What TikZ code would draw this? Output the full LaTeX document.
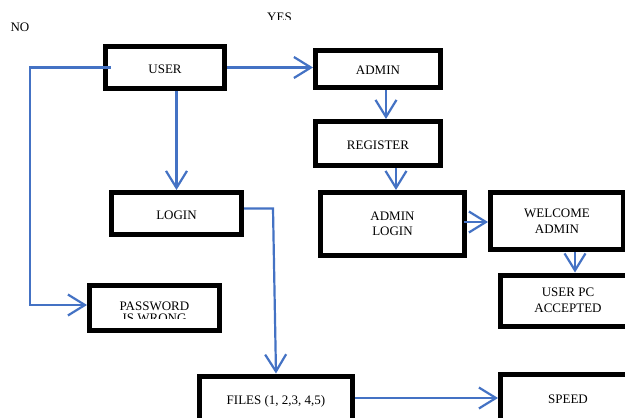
\documentclass[tikz,border=0pt]{standalone}
\usepackage{fontspec}
\setmainfont{Liberation Serif}
\usetikzlibrary{arrows.meta}
\definecolor{arrowblue}{RGB}{68,114,196}
\begin{document}
\begin{tikzpicture}[x=1pt,y=-1pt,
  box/.style={draw=black,line width=5pt,fill=white,inner sep=0pt,align=center,
    font=\fontsize{13}{15.5}\selectfont},
  onebox/.style={box,text height=11.5pt,text depth=0pt},
  conn/.style={draw=arrowblue,line width=2.2pt,
    -{Straight Barb[length=17pt,width=21pt,line width=2.2pt]}},
  lbl/.style={font=\fontsize{13}{15.5}\selectfont,inner sep=0pt}]
\clip (0,0) rectangle (625,418);
\fill[white] (0,0) rectangle (625,418);
% boxes
\node[onebox,minimum width=119,minimum height=42] (user) at (165,67.5) {USER};
\node[onebox,minimum width=125,minimum height=37] (admin) at (378,69) {ADMIN};
\node[onebox,minimum width=125,minimum height=44] (register) at (378,143.5) {REGISTER};
\node[box,minimum width=144,minimum height=63] (alogin) at (392.5,224) {ADMIN\\LOGIN};
\node[box,minimum width=133,minimum height=57] (welcome) at (557,221) {WELCOME\\ADMIN};
\node[box,minimum width=135,minimum height=51] (userpc) at (568,300.5) {USER PC\\ACCEPTED};
\node[onebox,minimum width=130,minimum height=42] (login) at (176.5,213.5) {LOGIN};
\node[box,minimum width=130,minimum height=45] (pwd) at (154.5,308) {};
\node[onebox,minimum width=153,minimum height=46] (files) at (276,399) {FILES (1, 2,3, 4,5)};
\node[onebox,minimum width=135,minimum height=46] (speed) at (568,397.5) {SPEED};
% clipped text inside password box
\begin{scope}
\clip (90,286) rectangle (219,318);
\node[lbl,align=center,anchor=north] (pwdtext) at (154.5,301.5) {PASSWORD\\[-3pt]IS WRONG};
\end{scope}
% labels
\node[lbl] (no) at (20,27) {NO};
\begin{scope}
\clip (250,0) rectangle (310,19.5);
\node[lbl,anchor=base] (yes) at (279.5,21.5) {YES};
\end{scope}
% connectors
\coordinate (nostart) at ([xshift=7.5]user.west);
\coordinate (nocorner) at (30,67.5);
\draw[conn] (nostart) -- (nocorner) |- ([yshift=3]pwd.west);
\draw[conn] (user.east) -- (user.east -| admin.west);
\draw[conn] (user.south -| login.north) -- (login.north);
\coordinate (lcorner) at (273,208.5);
\draw[conn] ([yshift=5]login.east) -- (lcorner) -- (files.north);
\draw[conn] ([xshift=8]admin.south) -- ([xshift=8]register.north);
\draw[conn] ([xshift=18]register.south) -- ([xshift=3.5]alogin.north);
\draw[conn] ([xshift=-3,yshift=2]alogin.east) -- ([yshift=2]alogin.east -| welcome.west);
\draw[conn] ([xshift=18]welcome.south) -- ([xshift=7]userpc.north);
\draw[conn] ([yshift=1]files.east) -- ([yshift=1]files.east -| speed.west);
\end{tikzpicture}
\end{document}
